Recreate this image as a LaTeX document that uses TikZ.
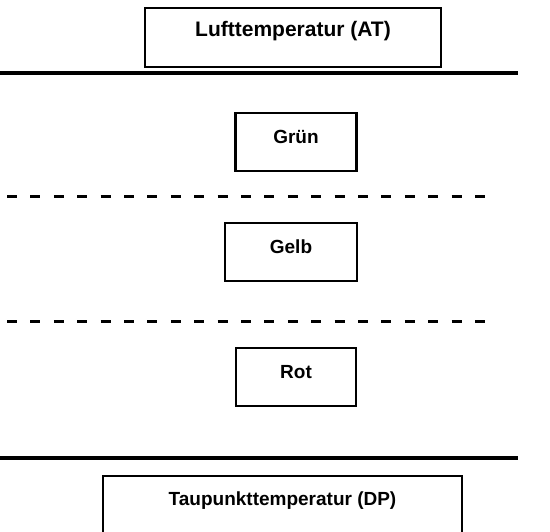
\documentclass[tikz,border=0pt]{standalone}
\usepackage{fontspec}
\setmainfont{Liberation Sans}
\usepackage{tikz}
\usetikzlibrary{positioning}

\begin{document}
\begin{tikzpicture}[
        x=1pt, y=-1pt,
        every node/.style={rectangle, draw, line width=2.2pt, align=center,
          font=\fontsize{19}{22}\selectfont\bfseries, text height=14pt},
        tempbox/.style={minimum height=59pt, text depth=15pt},
        zonebox/.style={minimum width=121pt, minimum height=58pt, text depth=10pt},
        limit/.style={line width=4pt},
        zoneline/.style={line width=3pt, dash pattern=on 10pt off 13.4pt},
      ]
      \useasboundingbox (0,0) rectangle (550,532);
      \clip (0,0) rectangle (550,532);
      % temperatures
      \node[tempbox, minimum width=296pt, font=\fontsize{21}{24}\selectfont\bfseries] (at) at (293,37.5) {Lufttemperatur (AT)};
      \node[tempbox, minimum width=359pt] (dp) at (282.5,505.5) {Taupunkttemperatur (DP)};
      % limits
      \draw[limit] (0,73) -- (518,73);
      \draw[limit] (0,458) -- (518,458);
      \draw[zoneline] (7,197) -- (485,197);
      \draw[zoneline] (7,322) -- (485,322);
      % zones
      \node[zonebox] (gruen) at (296,142) {Grün};
      \node[zonebox, minimum width=132pt] (gelb) at (291,252) {Gelb};
      \node[zonebox, minimum width=120pt] (rot) at (296,377) {Rot};
\end{tikzpicture}
\end{document}
